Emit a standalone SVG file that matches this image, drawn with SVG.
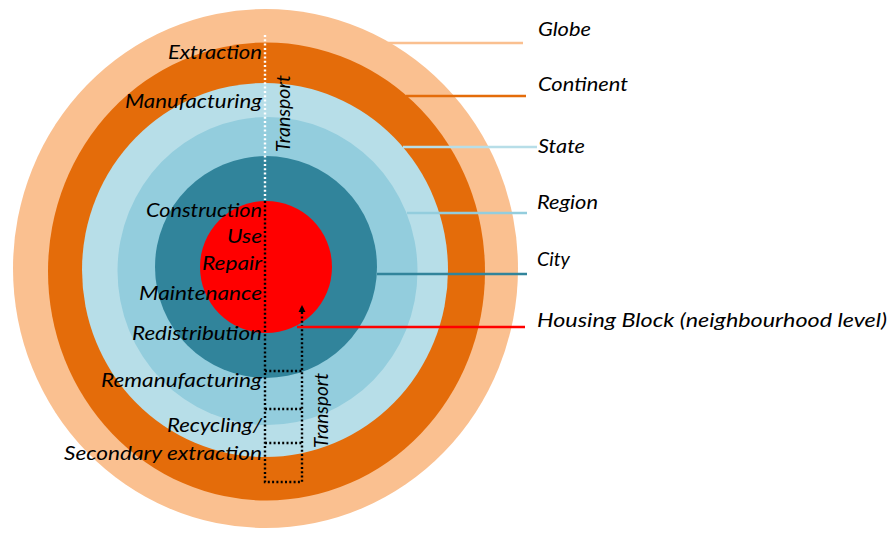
<svg xmlns="http://www.w3.org/2000/svg" width="893" height="534" viewBox="0 0 893 534">
<defs>
<style>
text{font-family:Lato,"Liberation Sans",sans-serif;font-style:italic;font-size:20px;fill:#000}
.l{text-anchor:end}
.dot{fill:none;stroke:#000;stroke-width:2.4;stroke-dasharray:2 2.3}
.lead{stroke-width:2.4;fill:none}
</style>
<marker id="ah" viewBox="0 0 8 8" refX="7" refY="4" markerWidth="3" markerHeight="3" orient="auto" markerUnits="strokeWidth">
<path d="M0,0 L8,4 L0,8 z" fill="#000"/>
</marker>
</defs>
<rect width="893" height="534" fill="#fff"/>
<g id="globe"><ellipse cx="265.5" cy="268.5" rx="252.5" ry="259.5" fill="#FAC090"/></g>
<g id="continent"><ellipse cx="266.5" cy="271.5" rx="218.5" ry="229" fill="#E46C0A"/></g>
<g id="state"><ellipse cx="265" cy="270" rx="183" ry="187" fill="#B7DEE8"/></g>
<g id="region"><ellipse cx="267.5" cy="271" rx="150" ry="154" fill="#93CDDD"/></g>
<g id="city"><circle cx="266" cy="267" r="111" fill="#31849B"/></g>
<g id="housing"><circle cx="266" cy="267" r="66" fill="#FF0000"/></g>
<g id="connectors">
<line x1="265" y1="35" x2="265" y2="200" stroke="#fff" stroke-width="2.4" stroke-dasharray="2 2.3"/>
<path class="dot" d="M265,201 V482 H302 V306" marker-end="url(#ah)"/>
<path class="dot" d="M265,371 H302 M265,409 H302 M265,443 H302"/>
<line class="lead" x1="388" y1="43" x2="523" y2="43" stroke="#FAC090"/>
<line class="lead" x1="406" y1="96" x2="526" y2="96" stroke="#E46C0A"/>
<line class="lead" x1="403" y1="147" x2="537" y2="147" stroke="#B7DEE8"/>
<line class="lead" x1="407" y1="213" x2="527" y2="213" stroke="#93CDDD"/>
<line class="lead" x1="377" y1="274" x2="527" y2="274" stroke="#31849B"/>
<line class="lead" x1="297" y1="327" x2="525" y2="327" stroke="#FF0000"/>
</g>
<g id="scale-labels">
<text x="538" y="36" textLength="53" lengthAdjust="spacingAndGlyphs">Globe</text>
<text x="538" y="91" textLength="90" lengthAdjust="spacingAndGlyphs">Continent</text>
<text x="538" y="153" textLength="47" lengthAdjust="spacingAndGlyphs">State</text>
<text x="537" y="209" textLength="61" lengthAdjust="spacingAndGlyphs">Region</text>
<text x="537" y="266" textLength="33" lengthAdjust="spacingAndGlyphs">City</text>
<text x="537" y="327" textLength="350" lengthAdjust="spacingAndGlyphs">Housing Block (neighbourhood level)</text>
</g>
<g id="stage-labels">
<text class="l" x="262" y="59" textLength="94" lengthAdjust="spacingAndGlyphs">Extraction</text>
<text class="l" x="262" y="108" textLength="137" lengthAdjust="spacingAndGlyphs">Manufacturing</text>
<text class="l" x="262" y="217" textLength="116" lengthAdjust="spacingAndGlyphs">Construction</text>
<text class="l" x="262" y="243" textLength="35" lengthAdjust="spacingAndGlyphs">Use</text>
<text class="l" x="262" y="270" textLength="60" lengthAdjust="spacingAndGlyphs">Repair</text>
<text class="l" x="262" y="300" textLength="123" lengthAdjust="spacingAndGlyphs">Maintenance</text>
<text class="l" x="262" y="340" textLength="130" lengthAdjust="spacingAndGlyphs">Redistribution</text>
<text class="l" x="262" y="387" textLength="161" lengthAdjust="spacingAndGlyphs">Remanufacturing</text>
<text class="l" x="262" y="432" textLength="95" lengthAdjust="spacingAndGlyphs">Recycling/</text>
<text class="l" x="262" y="460" textLength="198" lengthAdjust="spacingAndGlyphs">Secondary extraction</text>
</g>
<g id="transport-labels">
<text transform="translate(290,152) rotate(-90)" font-size="18" textLength="77" lengthAdjust="spacingAndGlyphs">Transport</text>
<text transform="translate(328,448) rotate(-90)" font-size="18" textLength="75" lengthAdjust="spacingAndGlyphs">Transport</text>
</g>
</svg>
